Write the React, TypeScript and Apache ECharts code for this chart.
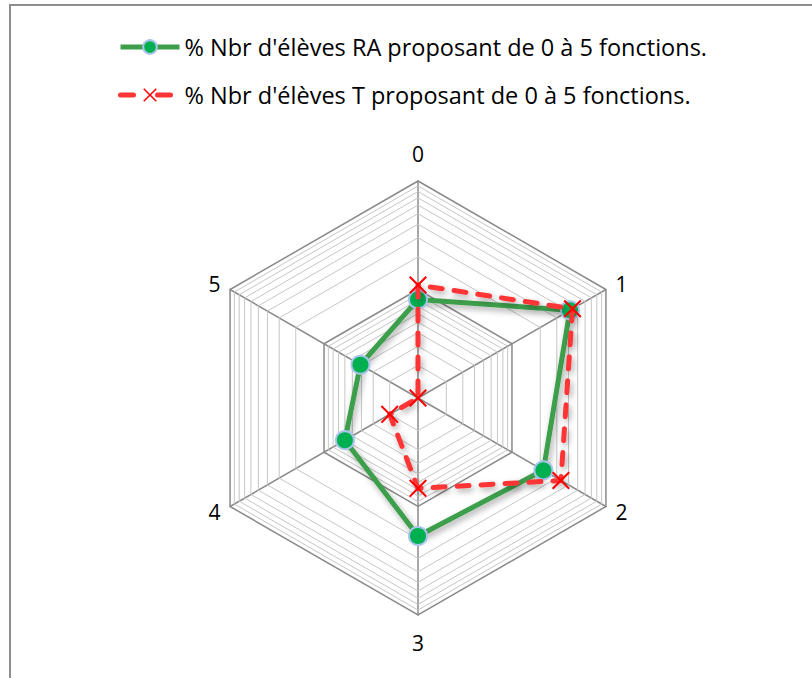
import React, { useEffect, useRef } from 'react';
import * as echarts from 'echarts';

const categories = ['0', '1', '2', '3', '4', '5'];
const seriesNames = [
  "% Nbr d'élèves RA proposant de 0 à 5 fonctions.",
  "% Nbr d'élèves T proposant de 0 à 5 fonctions.",
];
const raValues = [8.1, 41.4, 21.6, 18.7, 6.0, 4.1];
const tValues = [11.0, 44.1, 33.2, 6.8, 2.0, 0];
const majorTicks = [1, 10, 100];
const minorTicks = [2, 3, 4, 5, 6, 7, 8, 9, 20, 30, 40, 50, 60, 70, 80, 90];

const FONT = '"Open Sans", sans-serif';
// log10 radial scale: center = 1 %, middle ring = 10 %, outer ring = 100 %
const lg = (v: number) => (v <= majorTicks[0] ? 0 : Math.log10(v / majorTicks[0]));
// ECharts radar runs counter-clockwise; reorder so categories run clockwise
const order = [0, 5, 4, 3, 2, 1];

const X_PATH =
  'path://M0 8 L8 0 L50 42 L92 0 L100 8 L58 50 L100 92 L92 100 L50 58 L8 100 L0 92 L42 50 Z';

const GREEN_LINE = '#3c9e4b';
const GREEN_DOT = '#00b050';
const DOT_BORDER = '#a9c4eb';
const RED = '#ff3535';

export default function App() {
  const ref = useRef<HTMLDivElement>(null);
  useEffect(() => {
    if (!ref.current) return;
    const chart = echarts.init(ref.current, undefined, { renderer: 'svg' });
    const shadow = {
      shadowColor: 'rgba(0,0,0,0.35)',
      shadowBlur: 6,
      shadowOffsetX: 2,
      shadowOffsetY: 3,
    };
    chart.setOption({
      animation: false,
      backgroundColor: '#fff',
      textStyle: { fontFamily: FONT },
      graphic: [
        {
          type: 'rect',
          silent: true,
          z: -10,
          shape: { x: 10, y: 5, width: 900, height: 800 },
          style: { fill: 'none', stroke: '#8e8e8e', lineWidth: 2 },
        },
      ],
      legend: {
        orient: 'vertical',
        left: 113,
        top: 30,
        itemWidth: 59,
        itemHeight: 17,
        itemGap: 24,
        data: [
          { name: seriesNames[0], lineStyle: { width: 5, color: GREEN_LINE } },
          { name: seriesNames[1], lineStyle: { width: 5, color: RED, type: [13, 24], cap: 'round' } },
        ],
        textStyle: { fontSize: 23.5, color: '#000', fontFamily: FONT },
      },
      grid: { show: false, left: 0, top: 0, width: 1, height: 1 },
      xAxis: { show: false, type: 'category', data: [] },
      yAxis: { show: false, type: 'value' },
      radar: {
        center: [418, 398],
        radius: 217,
        startAngle: 90,
        shape: 'polygon',
        splitNumber: 2,
        nameGap: 11,
        axisName: { color: '#000', fontSize: 21, fontFamily: FONT, padding: [6, 0, 6, 0] },
        indicator: order.map((i) => ({
          name: categories[i],
          min: 0,
          max: lg(majorTicks[majorTicks.length - 1]),
        })),
        splitLine: { lineStyle: { color: '#8a8a8a', width: 1.5 } },
        splitArea: { show: false },
        axisLine: { lineStyle: { color: '#8a8a8a', width: 1.5 } },
        axisTick: { show: false },
        axisLabel: { show: false },
      },
      series: [
        {
          type: 'line',
          name: seriesNames[0],
          data: [],
          symbol: 'circle',
          lineStyle: { color: GREEN_LINE, width: 5 },
          itemStyle: { color: GREEN_DOT, borderColor: DOT_BORDER, borderWidth: 1.5 },
        },
        {
          type: 'line',
          name: seriesNames[1],
          data: [],
          symbol: X_PATH,
          lineStyle: { color: RED, width: 5, type: [13, 24] },
          itemStyle: { color: '#ff0000' },
        },
        {
          type: 'radar',
          name: 'grid-minor',
          silent: true,
          symbol: 'none',
          z: 1,
          lineStyle: { color: '#c6c6c6', width: 1 },
          data: minorTicks.map((v) => ({ name: 'm' + v, value: order.map(() => lg(v)) })),
        },
        {
          type: 'radar',
          name: seriesNames[0],
          z: 3,
          symbol: 'circle',
          symbolSize: 18,
          lineStyle: { color: GREEN_LINE, width: 5, ...shadow },
          itemStyle: { color: GREEN_DOT, borderColor: DOT_BORDER, borderWidth: 2 },
          data: [{ name: seriesNames[0], value: order.map((i) => lg(raValues[i])) }],
        },
        {
          type: 'radar',
          name: seriesNames[1],
          z: 4,
          symbol: X_PATH,
          symbolSize: 18,
          lineStyle: { color: RED, width: 5, type: [12, 12], cap: 'round', ...shadow },
          itemStyle: { color: '#ff0000' },
          data: [{ name: seriesNames[1], value: order.map((i) => lg(tValues[i])) }],
        },
      ],
    });
    return () => chart.dispose();
  }, []);
  return (
    <div
      ref={ref}
      style={{ position: 'absolute', left: 0, top: 0, width: 812, height: 678 }}
    />
  );
}
